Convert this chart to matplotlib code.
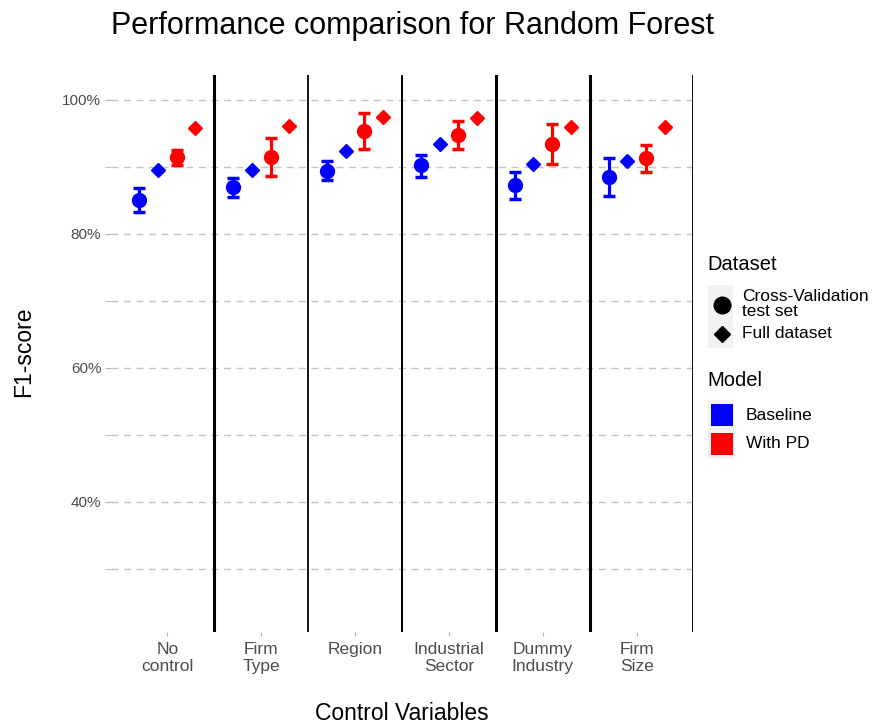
import numpy as np
import matplotlib.pyplot as plt
from matplotlib.patches import Rectangle
from matplotlib.lines import Line2D

plt.rcParams['font.family'] = ['Liberation Sans', 'DejaVu Sans']

# Data
controls = ['No\ncontrol', 'Firm\nType', 'Region', 'Industrial\nSector', 'Dummy\nIndustry', 'Firm\nSize']
base_cv = [0.851, 0.870, 0.894, 0.902, 0.873, 0.885]
base_cv_lo = [0.833, 0.855, 0.881, 0.885, 0.852, 0.857]
base_cv_hi = [0.868, 0.884, 0.909, 0.918, 0.892, 0.913]
base_full = [0.895, 0.896, 0.924, 0.934, 0.904, 0.908]
pd_cv = [0.914, 0.915, 0.953, 0.947, 0.934, 0.913]
pd_cv_lo = [0.902, 0.887, 0.926, 0.926, 0.904, 0.893]
pd_cv_hi = [0.925, 0.943, 0.980, 0.968, 0.964, 0.933]
pd_full = [0.958, 0.961, 0.974, 0.973, 0.959, 0.960]

W, H = 875, 727
fig = plt.figure(figsize=(W / 100, H / 100), dpi=100)
ax = fig.add_axes([111 / W, 1 - 632 / H, (693 - 111) / W, (632 - 75) / H])

x = np.arange(1, len(controls) + 1)
blue, red = '#0000ff', '#ff0000'

def cv_points(xs, mid, lo, hi, col):
    mid = np.array(mid)
    err = [mid - np.array(lo), np.array(hi) - mid]
    ax.errorbar(xs, mid, yerr=err, fmt='o', color=col, ms=10, elinewidth=2.3,
                capsize=4.5, capthick=2.5, zorder=4)

cv_points(x - 0.3, base_cv, base_cv_lo, base_cv_hi, blue)
ax.plot(x - 0.1, base_full, 'D', color=blue, ms=7, ls='none', zorder=4)
cv_points(x + 0.1, pd_cv, pd_cv_lo, pd_cv_hi, red)
ax.plot(x + 0.3, pd_full, 'D', color=red, ms=7, ls='none', zorder=4)

# separators between groups
for xv, lw in zip([1.5, 2.5, 3.5, 4.5, 5.5, 6.6], [2.2, 1.3, 1.4, 2.2, 2.2, 1.3]):
    ax.axvline(xv, color='black', lw=lw, zorder=3)

ax.set_xlim(0.4, 6.6)
ax.set_ylim(0.206, 1.037)
for yv in np.arange(0.3, 1.01, 0.1):
    ax.axhline(yv, color='#c4c4c4', lw=1, ls=(0, (5, 4)), zorder=1)

ax.set_yticks([0.4, 0.6, 0.8, 1.0])
ax.set_yticklabels(['40%', '60%', '80%', '100%'])
ax.set_yticks([0.3, 0.5, 0.7, 0.9], minor=True)
ax.set_xticks(x)
ax.set_xticklabels(controls, fontsize=12.5, color='#4d4d4d', linespacing=1.2)
ax.tick_params(axis='y', which='both', length=4, color='#b0b0b0', labelsize=11,
               labelcolor='#4d4d4d', pad=3)
ax.tick_params(axis='x', length=3, color='#b0b0b0', pad=4)
for s in ax.spines.values():
    s.set_visible(False)

ax.set_xlabel('Control Variables', fontsize=16.5, va='center')
ax.xaxis.set_label_coords(0.5, -(713 - 632) / 557)
ax.set_ylabel('F1-score', fontsize=16.5, va='center')
ax.yaxis.set_label_coords((24 - 111) / 582, (632 - 352) / 557)
fig.text(111 / W, 1 - 34 / H, 'Performance comparison for Random Forest',
         fontsize=22, ha='left', va='baseline')

# legend drawn in pixel coordinates
lg = fig.add_axes([0, 0, 1, 1], facecolor='none')
lg.set_xlim(0, W)
lg.set_ylim(H, 0)
lg.axis('off')
lg.text(707, 265, 'Dataset', fontsize=14.5, va='center')
lg.add_patch(Rectangle((708, 285), 25, 63, color='#f2f2f2', lw=0))
lg.add_artist(Line2D([721.5], [305], marker='o', ms=12, color='black'))
lg.add_artist(Line2D([721.5], [334], marker='D', ms=8, color='black'))
lg.text(742, 304, 'Cross-Validation\ntest set', fontsize=12.5, va='center', linespacing=0.95)
lg.text(742, 334, 'Full dataset', fontsize=12.5, va='center')
lg.text(707, 381, 'Model', fontsize=14.5, va='center')
lg.add_patch(Rectangle((708, 400), 26, 59, color='#f2f2f2', lw=0))
lg.add_patch(Rectangle((710.5, 404), 22, 22, color=blue, lw=0))
lg.add_patch(Rectangle((710.5, 433), 22, 22, color=red, lw=0))
lg.text(746, 415, 'Baseline', fontsize=12.5, va='center')
lg.text(746, 444, 'With PD', fontsize=12.5, va='center')

fig.savefig('out.png', dpi=100)
